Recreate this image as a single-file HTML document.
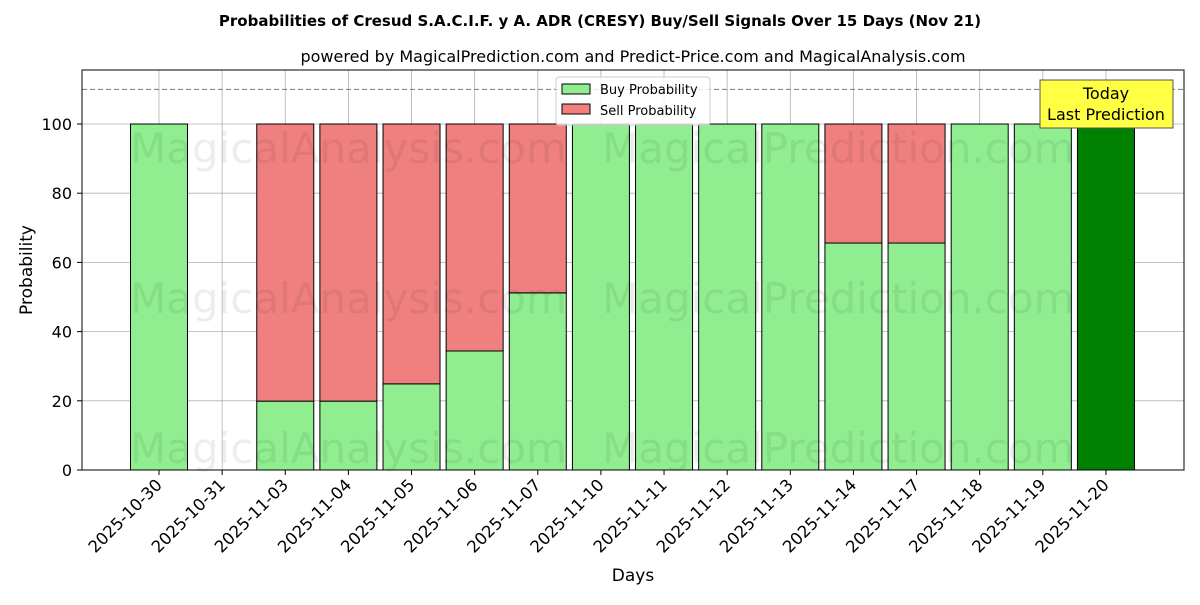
<!DOCTYPE html>
<html><head><meta charset="utf-8"><style>
body{margin:0;background:#fff}
svg text{font-family:"DejaVu Sans","Liberation Sans",sans-serif}
</style></head><body>
<svg id="c" width="1200" height="600" xmlns="http://www.w3.org/2000/svg">
<text x="600" y="26" text-anchor="middle" font-size="15" font-weight="bold">Probabilities of Cresud S.A.C.I.F. y A. ADR (CRESY) Buy/Sell Signals Over 15 Days (Nov 21)</text>
<text x="633" y="62" text-anchor="middle" font-size="16">powered by MagicalPrediction.com and Predict-Price.com and MagicalAnalysis.com</text>
<g id="grid"></g>
<g id="bars"></g>
<g id="wm" font-size="42" fill="#000" fill-opacity="0.07">
<text x="130" y="163">MagicalAnalysis.com</text><text x="602" y="163">MagicalPrediction.com</text>
<text x="130" y="313">MagicalAnalysis.com</text><text x="602" y="313">MagicalPrediction.com</text>
<text x="130" y="463">MagicalAnalysis.com</text><text x="602" y="463">MagicalPrediction.com</text>
</g>
<line x1="82" x2="1184" y1="89.4" y2="89.4" stroke="#777" stroke-dasharray="5,3"/>
<rect x="82" y="70" width="1102" height="400" fill="none" stroke="#000"/>
<g id="axes"></g>
<text x="633" y="581" text-anchor="middle" font-size="17">Days</text>
<text transform="translate(32,270) rotate(-90)" text-anchor="middle" font-size="17">Probability</text>
<g>
<rect x="556" y="77" width="154" height="48" fill="#fff" fill-opacity="0.8" stroke="#ccc" rx="3"/>
<rect x="562" y="84" width="28" height="10" fill="#90ee90" stroke="#000"/>
<text x="600" y="94" font-size="13">Buy Probability</text>
<rect x="562" y="104" width="28" height="10" fill="#f08080" stroke="#000"/>
<text x="600" y="115" font-size="13">Sell Probability</text>
</g>
<g>
<rect x="1040" y="80" width="133" height="48" fill="#ffff44" stroke="#555"/>
<text x="1106" y="99" text-anchor="middle" font-size="16">Today</text>
<text x="1106" y="120" text-anchor="middle" font-size="16">Last Prediction</text>
</g>
</svg>
<script>
const categories=["2025-10-30","2025-10-31","2025-11-03","2025-11-04","2025-11-05","2025-11-06","2025-11-07","2025-11-10","2025-11-11","2025-11-12","2025-11-13","2025-11-14","2025-11-17","2025-11-18","2025-11-19","2025-11-20"];
const buyValues=[100,0,19.9,19.9,24.9,34.4,51.2,100,100,100,100,65.6,65.6,100,100,100];
const sellValues=[0,0,80.1,80.1,75.1,65.6,48.8,0,0,0,0,34.4,34.4,0,0,0];
const yTicks=[0,20,40,60,80,100];
const NS="http://www.w3.org/2000/svg";
const x=i=>159+i*63.13;
const y=v=>470-v*3.46;
function mk(t,a,p){const e=document.createElementNS(NS,t);for(const k in a)e.setAttribute(k,a[k]);p.appendChild(e);return e;}
const grid=document.getElementById('grid'),bars=document.getElementById('bars'),axes=document.getElementById('axes');
yTicks.forEach(v=>{
 const g=mk('line',{x1:82,x2:1184,y1:y(v),y2:y(v),stroke:'#b0b0b0','stroke-width':0.8},grid);
 
 
 mk('line',{x1:77,x2:82,y1:y(v),y2:y(v),stroke:'#000'},axes);
 const t=mk('text',{x:72,y:y(v)+6,'text-anchor':'end','font-size':16},axes);t.textContent=v;
 
 
});
categories.forEach((c,i)=>{
 const g=mk('line',{x1:x(i),x2:x(i),y1:70,y2:470,stroke:'#b0b0b0','stroke-width':0.8},grid);
 
 
 const w=57,last=i===categories.length-1;
 if(buyValues[i]>0){
  const b=mk('rect',{x:x(i)-w/2,y:y(buyValues[i]),width:w,height:y(0)-y(buyValues[i]),fill:last?'#008000':'#90ee90',stroke:'#000'},bars);
  
  
 }
 if(sellValues[i]>0){
  const s=mk('rect',{x:x(i)-w/2,y:y(buyValues[i]+sellValues[i]),width:w,height:y(buyValues[i])-y(buyValues[i]+sellValues[i]),fill:'#f08080',stroke:'#000'},bars);
  
  
 }
 mk('line',{x1:x(i),x2:x(i),y1:470,y2:475,stroke:'#000'},axes);
 const t=mk('text',{x:x(i)+4,y:486,'text-anchor':'end','font-size':16.5,transform:`rotate(-45 ${x(i)+4} 486)`},axes);t.textContent=c;
 
 
});
</script>
</body></html>
